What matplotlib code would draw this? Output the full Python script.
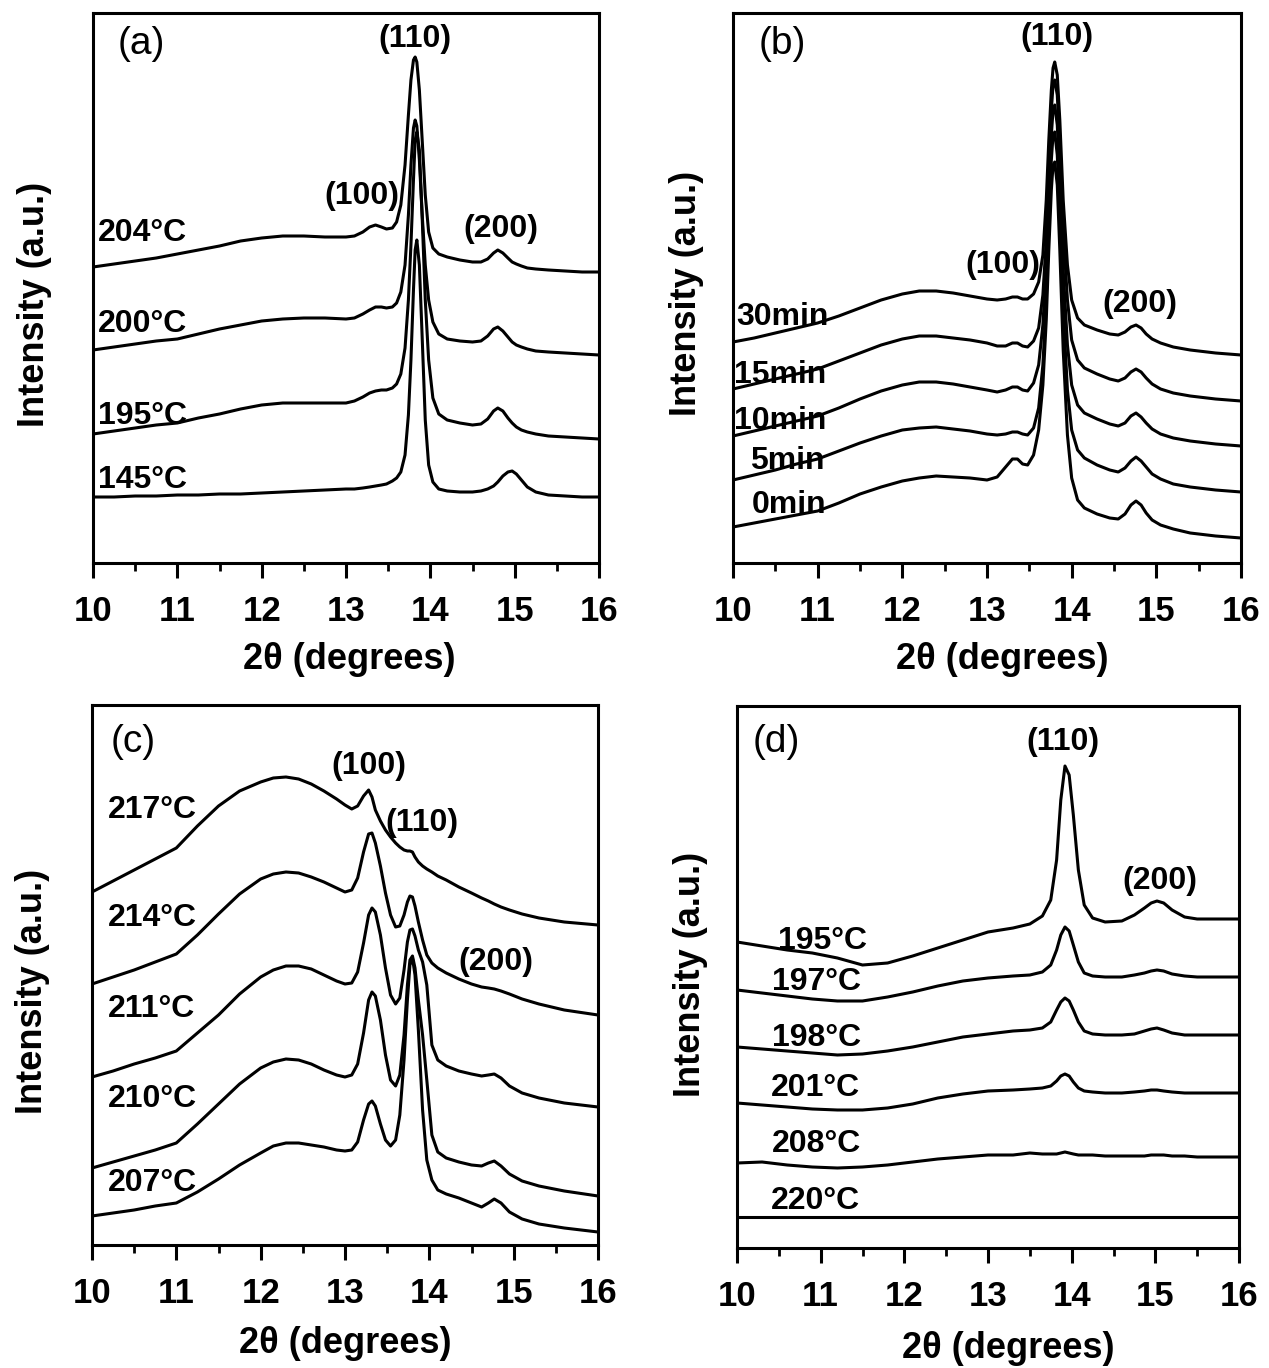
import matplotlib
matplotlib.use("Agg")
import matplotlib.pyplot as plt
from matplotlib.ticker import MultipleLocator

plt.rcParams['font.family'] = ['Liberation Sans', 'DejaVu Sans']

# ---------------- Panel (a) ----------------
xa = [10.0, 10.25, 10.5, 10.75, 11.0, 11.25, 11.5, 11.75, 12.0, 12.25,
      12.5, 12.75, 13.0, 13.1, 13.2, 13.28, 13.35, 13.42, 13.48, 13.55,
      13.6, 13.65, 13.7, 13.74, 13.77, 13.8, 13.82, 13.84, 13.87, 13.9,
      13.94, 13.98, 14.03, 14.1, 14.2, 14.35, 14.5, 14.6, 14.68, 14.75,
      14.8, 14.86, 14.92, 14.97, 15.02, 15.08, 15.15, 15.25, 15.4, 15.6,
      15.8, 16.0]
a_204 = [296, 299, 302, 305, 309, 313, 317, 322, 325, 327,
         327, 326, 326, 327, 331, 336, 338, 336, 334, 335,
         341, 358, 398, 448, 483, 503, 506, 501, 473, 428,
         368, 331, 315, 309, 306, 303, 301, 301, 304, 310,
         313, 310, 305, 301, 299, 297, 295, 294, 293, 292,
         291, 291]
a_200 = [213, 216, 219, 222, 224, 229, 234, 238, 242, 244,
         245, 245, 244, 245, 249, 253, 256, 256, 255, 256,
         260, 271, 298, 348, 398, 435, 443, 437, 403, 353,
         298, 263, 241, 229, 224, 222, 221, 222, 227, 234,
         236, 232, 226, 221, 218, 216, 214, 212, 211, 210,
         209, 208]
a_195 = [129, 132, 135, 138, 140, 145, 149, 154, 158, 160,
         160, 160, 160, 162, 166, 170, 172, 173, 173, 175,
         179, 189, 215, 263, 318, 383, 423, 431, 413, 353,
         263, 203, 165, 149, 143, 140, 138, 139, 144, 152,
         155, 152, 145, 140, 136, 133, 131, 129, 127, 126,
         125, 124]
a_145 = [66, 66, 67, 67, 68, 68, 69, 69, 70, 71,
         72, 73, 74, 74, 75, 76, 77, 78, 79, 82,
         85, 91, 108, 148, 203, 273, 313, 323, 298, 233,
         143, 98, 81, 74, 72, 71, 71, 72, 74, 77,
         81, 87, 91, 92, 89, 83, 76, 71, 68, 67,
         66, 66]
a_series = [a_204, a_200, a_195, a_145]
a_names = ['204°C', '200°C', '195°C', '145°C']

# ---------------- Panel (b) ----------------
xb = [10.0, 10.25, 10.5, 10.75, 11.0, 11.25, 11.5, 11.75, 12.0, 12.2,
      12.4, 12.6, 12.8, 13.0, 13.12, 13.22, 13.3, 13.36, 13.42, 13.48,
      13.55, 13.61, 13.66, 13.7, 13.73, 13.76, 13.78, 13.8, 13.83, 13.86,
      13.9, 13.95, 14.0, 14.07, 14.15, 14.3, 14.45, 14.55, 14.63, 14.7,
      14.76, 14.82, 14.88, 14.95, 15.05, 15.2, 15.4, 15.7, 16.0]
b_30 = [221, 225, 230, 235, 240, 247, 255, 263, 269, 272,
        272, 270, 267, 264, 263, 264, 266, 266, 264, 264,
        269, 281, 308, 363, 423, 473, 495, 501, 488, 443,
        363, 298, 263, 245, 238, 233, 229, 228, 231, 236,
        238, 235, 229, 224, 220, 216, 213, 210, 208]
b_15 = [174, 179, 184, 189, 194, 202, 210, 218, 224, 227,
        227, 225, 223, 220, 217, 217, 220, 220, 217, 216,
        222, 235, 268, 323, 393, 453, 478, 483, 468, 418,
        333, 263, 223, 203, 195, 189, 184, 182, 185, 191,
        194, 191, 185, 179, 174, 170, 167, 164, 162]
b_10 = [127, 132, 137, 142, 147, 155, 164, 172, 178, 181,
        181, 179, 176, 173, 171, 173, 176, 176, 173, 172,
        180, 198, 238, 298, 368, 428, 453, 458, 438, 383,
        293, 218, 178, 158, 150, 144, 139, 137, 140, 147,
        150, 146, 140, 134, 129, 125, 122, 119, 117]
b_5 = [83, 88, 93, 99, 104, 112, 120, 127, 133, 135,
       136, 134, 132, 129, 128, 129, 131, 131, 129, 128,
       135, 155, 198, 263, 338, 403, 428, 431, 408, 348,
       253, 173, 133, 113, 105, 98, 93, 91, 95, 102,
       106, 102, 96, 89, 84, 79, 76, 73, 71]
b_0 = [36, 40, 44, 48, 52, 60, 69, 76, 82, 85,
       87, 86, 85, 83, 86, 96, 104, 104, 99, 98,
       108, 133, 178, 243, 313, 373, 398, 401, 378, 313,
       213, 128, 85, 63, 55, 49, 45, 44, 49, 58,
       62, 58, 50, 43, 38, 34, 30, 27, 25]
b_series = [b_30, b_15, b_10, b_5, b_0]
b_names = ['30min', '15min', '10min', '5min', '0min']

# ---------------- Panel (c) ----------------
xc = [10.0, 10.25, 10.5, 10.75, 11.0, 11.25, 11.5, 11.75, 12.0, 12.15,
      12.3, 12.45, 12.6, 12.75, 12.9, 13.0, 13.08, 13.15, 13.22, 13.28,
      13.32, 13.36, 13.42, 13.48, 13.54, 13.6, 13.65, 13.7, 13.74, 13.77,
      13.8, 13.83, 13.87, 13.92, 13.97, 14.03, 14.1, 14.2, 14.35, 14.5,
      14.62, 14.7, 14.77, 14.85, 14.95, 15.1, 15.3, 15.6, 16.0]
c_217 = [353, 364, 375, 386, 397, 419, 439, 454, 463, 467,
         468, 466, 461, 454, 446, 440, 436, 439, 449, 455,
         448, 435, 424, 415, 408, 402, 398, 395, 394, 394,
         393, 388, 383, 379, 376, 373, 369, 365, 358, 352,
         347, 344, 341, 338, 335, 331, 327, 323, 320]
c_214 = [261, 268, 275, 283, 291, 310, 331, 351, 366, 371,
         373, 372, 368, 363, 357, 353, 355, 367, 393, 411,
         412, 402, 379, 352, 330, 318, 319, 330, 343, 349,
         348, 339, 323, 305, 290, 282, 277, 272, 266, 261,
         258, 257, 256, 254, 251, 246, 241, 235, 230]
c_211 = [168, 174, 181, 187, 194, 212, 230, 251, 268, 275,
         279, 279, 276, 270, 264, 261, 262, 273, 302, 330,
         337, 333, 310, 277, 250, 241, 247, 275, 303, 315,
         316, 309, 295, 283, 260, 200, 185, 179, 174, 171,
         169, 170, 171, 167, 159, 152, 147, 142, 138]
c_210 = [77, 83, 89, 95, 102, 121, 141, 161, 177, 183,
         186, 185, 181, 175, 170, 168, 170, 181, 212, 245,
         253, 249, 225, 190, 165, 159, 170, 210, 260, 285,
         289, 277, 245, 210, 165, 110, 93, 87, 83, 80,
         79, 82, 84, 79, 71, 64, 59, 54, 49]
c_207 = [29, 32, 35, 39, 42, 53, 66, 80, 92, 99,
         102, 102, 100, 98, 95, 94, 95, 103, 125, 141,
         144, 139, 121, 105, 99, 105, 130, 185, 245, 280,
         287, 270, 215, 135, 85, 65, 55, 51, 47, 42,
         38, 42, 46, 42, 33, 26, 21, 17, 13]
c_series = [c_217, c_214, c_211, c_210, c_207]
c_names = ['217°C', '214°C', '211°C', '210°C', '207°C']

# ---------------- Panel (d) ----------------
xd = [10.0, 10.3, 10.6, 10.9, 11.2, 11.5, 11.8, 12.1, 12.4, 12.7,
      13.0, 13.3, 13.5, 13.65, 13.75, 13.82, 13.87, 13.92, 13.97, 14.02,
      14.08, 14.15, 14.25, 14.4, 14.6, 14.75, 14.87, 14.95, 15.02, 15.1,
      15.2, 15.35, 15.5, 15.75, 16.0]
d_195 = [306, 302, 298, 295, 290, 283, 285, 292, 300, 308,
         316, 320, 324, 332, 348, 388, 448, 482, 473, 433,
         378, 343, 330, 326, 327, 333, 340, 345, 347, 345,
         338, 331, 329, 329, 329]
d_197 = [258, 255, 252, 249, 247, 247, 251, 256, 262, 267,
         270, 272, 273, 276, 283, 298, 313, 321, 317, 303,
         286, 275, 272, 271, 271, 273, 275, 277, 278, 277,
         274, 272, 271, 271, 271]
d_198 = [201, 199, 197, 195, 193, 194, 197, 201, 206, 211,
         214, 217, 218, 220, 226, 238, 246, 250, 247, 238,
         226, 217, 214, 213, 213, 214, 217, 219, 220, 218,
         215, 213, 213, 213, 213]
d_201 = [145, 143, 141, 139, 138, 138, 140, 144, 150, 154,
         157, 158, 159, 160, 162, 167, 172, 174, 172, 166,
         160, 157, 156, 155, 155, 156, 157, 158, 158, 157,
         156, 155, 155, 155, 155]
d_208 = [85, 86, 83, 81, 80, 81, 83, 86, 89, 91,
         93, 93, 95, 94, 94, 94, 95, 96, 95, 94,
         93, 93, 93, 92, 92, 92, 92, 93, 93, 93,
         92, 92, 91, 91, 91]
d_220 = [31] * len(xd)
d_series = [d_195, d_197, d_198, d_201, d_208, d_220]
d_names = ['195°C', '197°C', '198°C', '201°C', '208°C', '220°C']

W, H = 1269, 1368
fig = plt.figure(figsize=(W / 100, H / 100), dpi=100)


def add_axes(l, r, t, b):
    return fig.add_axes([l / W, 1 - b / H, (r - l) / W, (b - t) / H])


axa = add_axes(93, 599, 13, 563)
axb = add_axes(733, 1241, 13, 563)
axc = add_axes(92, 598, 705, 1245)
axd = add_axes(737, 1239, 706, 1248)

LW = 2.2
TXT = dict(fontsize=23, fontweight='bold')

for ax, xs, series, ymax in [(axa, xa, a_series, 550), (axb, xb, b_series, 550),
                             (axc, xc, c_series, 540), (axd, xd, d_series, 542)]:
    for ys in series:
        ax.plot(xs, ys, color='black', lw=LW, solid_joinstyle='round')
    ax.set_xlim(10, 16)
    ax.set_ylim(0, ymax)
    ax.set_yticks([])
    ax.xaxis.set_major_locator(MultipleLocator(1))
    ax.xaxis.set_minor_locator(MultipleLocator(0.5))
    ax.tick_params(axis='x', which='major', direction='out', length=11, width=2.2,
                   labelsize=25, pad=12)
    ax.tick_params(axis='x', which='minor', direction='out', length=6, width=2.0)
    for lab in ax.get_xticklabels():
        lab.set_fontweight('bold')
    for sp in ax.spines.values():
        sp.set_linewidth(2.2)
    ax.set_xlabel('2θ (degrees)', fontsize=26, fontweight='bold')
    ax.set_ylabel('Intensity (a.u.)', fontsize=26, fontweight='bold')
    ax.xaxis.label.set_va('center')
    ax.yaxis.label.set_va('center')

axa.xaxis.set_label_coords(0.506, -0.176)
axb.xaxis.set_label_coords(0.53, -0.175)
axc.xaxis.set_label_coords(0.50, -0.183)
axd.xaxis.set_label_coords(0.54, -0.186)
axa.yaxis.set_label_coords(-0.115, 0.47)
axb.yaxis.set_label_coords(-0.0925, 0.49)
axc.yaxis.set_label_coords(-0.118, 0.47)
axd.yaxis.set_label_coords(-0.092, 0.505)

# panel letters
for ax, letter, x, y in [(axa, '(a)', 10.57, 519), (axb, '(b)', 10.58, 519),
                         (axc, '(c)', 10.49, 503), (axd, '(d)', 10.47, 506)]:
    ax.text(x, y, letter, fontsize=28, ha='center', va='center')

# curve labels
for name, y in zip(a_names, [330, 239, 147, 82.5]):
    axa.text(10.06, y, name, ha='left', va='center', **TXT)
for name, x, y in zip(b_names, [10.035, 10.01, 10.01, 10.2, 10.22], [246, 188, 142, 102, 58]):
    axb.text(x, y, name, ha='left', va='center', **TXT)
for name, y in zip(c_names, [435, 327, 236, 146, 62]):
    axc.text(10.19, y, name, ha='left', va='center', **TXT)
for name, x, y in zip(d_names, [11.02, 10.95, 10.95, 10.94, 10.95, 10.94],
                      [307, 265.5, 210, 160.5, 104, 47]):
    axd.text(x, y, name, ha='center', va='center', **TXT)

# reflection labels
for ax, lab, x, y in [(axa, '(110)', 13.82, 523.5), (axa, '(100)', 13.19, 367), (axa, '(200)', 14.84, 334),
                      (axb, '(110)', 13.83, 526), (axb, '(100)', 13.19, 298), (axb, '(200)', 14.81, 259),
                      (axc, '(100)', 13.28, 479), (axc, '(110)', 13.91, 422), (axc, '(200)', 14.79, 283),
                      (axd, '(110)', 13.9, 506), (axd, '(200)', 15.05, 367)]:
    ax.text(x, y, lab, ha='center', va='center', **TXT)

fig.savefig('out.png', dpi=100)
